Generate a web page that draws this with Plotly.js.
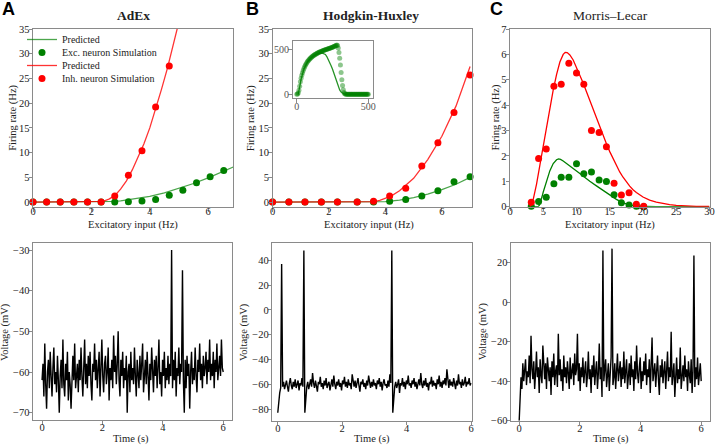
<!DOCTYPE html>
<html>
<head>
<meta charset="utf-8">
<script src="https://cdn.plot.ly/plotly-3.0.1.min.js"></script>
<style>html,body{margin:0;padding:0;background:#fff;}#chart{width:716px;height:447px;}</style>
</head>
<body>
<div id="chart"></div>
<script>
// ---------- Panel A (AdEx) firing rates ----------
const aSimX = [0, 0.467, 0.933, 1.4, 1.867, 2.333, 2.8, 3.267, 3.733, 4.2, 4.667, 5.133, 5.6, 6.067, 6.533];
const aExcSim = [0, 0, 0, 0, 0, 0, 0.02, 0.05, 0.2, 0.5, 1.4, 2.4, 3.9, 5.1, 6.4];
const aInhSimX = [0, 0.467, 0.933, 1.4, 1.867, 2.333, 2.8, 3.267, 3.733, 4.2, 4.667];
const aInhSim = [0, 0, 0, 0, 0, 0, 1.2, 5.4, 10.4, 19.2, 27.5];
const aExcPredX = [0, 2.0, 2.3, 2.5, 2.8, 3.0, 3.5, 4.0, 4.5, 5.0, 5.5, 6.0, 6.5, 6.9];
const aExcPred = [0, 0, 0.01, 0.04, 0.12, 0.22, 0.62, 1.15, 1.85, 2.75, 3.75, 4.9, 6.15, 7.2];
const aInhPredX = [0, 2.2, 2.4, 2.6, 2.8, 3.0, 3.2, 3.4, 3.6, 3.8, 4.0, 4.2, 4.4, 4.6, 4.8, 5.0];
const aInhPred = [0, 0, 0.15, 0.6, 1.3, 2.6, 4.3, 6.5, 9.0, 11.8, 15.0, 18.8, 22.8, 27.0, 31.5, 36.5];

// ---------- Panel B (Hodgkin-Huxley) firing rates ----------
const bSimX = [0, 0.58, 1.15, 1.73, 2.3, 3.0, 3.58, 4.15, 4.72, 5.29, 5.86, 6.43, 7.0];
const bExcSim = [0, 0, 0, 0, 0, 0, 0, 0.15, 0.5, 1.2, 2.3, 4.1, 5.1];
const bInhSim = [0, 0, 0, 0, 0, 0, 0.15, 1.2, 2.8, 7.3, 12.0, 18.1, 25.7];
const bExcPredX = [0, 3.5, 3.8, 4.0, 4.5, 5.0, 5.5, 6.0, 6.5, 7.0];
const bExcPred = [0, 0, 0.03, 0.1, 0.4, 0.9, 1.6, 2.5, 3.6, 5.0];
const bInhPredX = [0, 3.4, 3.6, 3.8, 4.0, 4.2, 4.5, 5.0, 5.5, 6.0, 6.5, 7.0];
const bInhPred = [0, 0, 0.1, 0.35, 0.7, 1.2, 2.3, 4.8, 8.6, 13.3, 19.4, 27.4];

// Inset of panel B (excitatory neuron, wide input range)
const insetX = [0,5,10,15,20,25,30,35,40,45,50,55,60,65,70,75,80,85,90,95,
  100,105,110,115,120,125,130,135,140,145,150,155,160,165,170,175,180,185,190,195,
  200,205,210,215,220,225,230,235,240,245,250,255,260,265,270,275,280,285,290,295,
  300,305,310,315,320,325,330,335,340,345,350,355,360,365,370,375,380,385,390,395,
  400,405,410,415,420,425,430,435,440,445,450,455,460,465,470,475,480,485,490,495,500];
const insetSim = [0,3,15,45,92,140,180,214,243,268,290,310,327,342,356,368,379,389,398,406,
  414,421,428,434,440,445,450,455,460,464,468,472,476,479,483,486,489,492,495,498,
  501,504,507,510,513,516,519,522,525,528,531,534,538,542,546,550,554,548,520,470,
  405,330,245,165,100,50,20,6,2,0,0,0,0,0,0,0,0,0,0,0,
  0,0,0,0,0,0,0,0,0,0,0,0,0,0,0,0,0,0,0,0,0];
const insetPredX = [10,15,20,30,40,50,75,100,125,150,175,190,200,210,220,230,240,250,260,270,280,290,300,310,320,330,350,500];
const insetPred = [0,30,80,170,235,285,365,410,440,458,465,460,448,425,395,360,322,282,236,185,135,88,50,25,12,5,0,0];

// ---------- Panel C (Morris-Lecar) firing rates ----------
const cSimX = [3.2, 4.3, 5.45, 6.6, 7.7, 8.85, 10.0, 11.1, 12.25, 13.4, 14.5, 15.65, 16.75, 17.9, 19.0, 20.1];
const cExcSim = [0.02, 0.2, 0.37, 0.9, 1.16, 1.16, 1.69, 1.3, 1.37, 1.05, 0.99, 0.47, 0.16, 0.07, 0.02, 0.0];
const cInhSim = [0.18, 1.9, 2.27, 4.74, 4.82, 5.65, 5.27, 4.82, 3.0, 2.92, 2.36, 0.92, 0.46, 0.55, 0.1, 0.02];
const cExcPredX = [3.0, 4.2, 4.4, 4.6, 4.8, 5.0, 5.5, 6.0, 6.5, 7.0, 7.3, 7.6, 8.0, 8.5, 9.0, 9.5, 10.0, 10.5, 11.0, 12.0, 13.0, 14.0, 15.0, 16.0, 17.0, 18.0, 19.0, 20.0, 22.0, 30.0];
const cExcPred = [0, 0, 0.05, 0.18, 0.38, 0.58, 1.02, 1.42, 1.7, 1.85, 1.88, 1.86, 1.8, 1.71, 1.61, 1.51, 1.41, 1.31, 1.2, 1.0, 0.82, 0.64, 0.46, 0.29, 0.15, 0.07, 0.025, 0.008, 0, 0];
const cInhPredX = [3.0, 3.25, 3.5, 4.0, 4.5, 5.0, 5.5, 6.0, 6.5, 7.0, 7.5, 8.0, 8.3, 8.6, 9.0, 9.5, 10.0, 10.5, 11.0, 11.5, 12.0, 12.5, 13.0, 13.5, 14.0, 14.5, 15.0, 15.5, 16.0, 16.5, 17.0, 17.5, 18.0, 18.5, 19.0, 20.0, 21.0, 22.0, 23.0, 24.0, 25.0, 26.0, 27.0, 28.0, 30.0];
const cInhPred = [0, 0.1, 0.3, 0.9, 1.65, 2.4, 3.1, 3.9, 4.6, 5.2, 5.7, 6.0, 6.08, 6.07, 5.98, 5.78, 5.5, 5.2, 4.87, 4.53, 4.18, 3.84, 3.5, 3.16, 2.82, 2.48, 2.17, 1.88, 1.61, 1.37, 1.16, 0.97, 0.81, 0.67, 0.56, 0.38, 0.26, 0.18, 0.12, 0.08, 0.05, 0.035, 0.02, 0.015, 0.01];

// ---------- Voltage traces (time in s) ----------
const timeS = [0,0.03,0.06,0.09,0.12,0.15,0.18,0.21,0.24,0.27,
  0.3,0.33,0.36,0.39,0.42,0.45,0.48,0.51,0.54,0.57,
  0.6,0.63,0.66,0.69,0.72,0.75,0.78,0.81,0.84,0.87,
  0.9,0.93,0.96,0.99,1.02,1.05,1.08,1.11,1.14,1.17,
  1.2,1.23,1.26,1.29,1.32,1.35,1.38,1.41,1.44,1.47,
  1.5,1.53,1.56,1.59,1.62,1.65,1.68,1.71,1.74,1.77,
  1.8,1.83,1.86,1.89,1.92,1.95,1.98,2.01,2.04,2.07,
  2.1,2.13,2.16,2.19,2.22,2.25,2.28,2.31,2.34,2.37,
  2.4,2.43,2.46,2.49,2.52,2.55,2.58,2.61,2.64,2.67,
  2.7,2.73,2.76,2.79,2.82,2.85,2.88,2.91,2.94,2.97,
  3.0,3.03,3.06,3.09,3.12,3.15,3.18,3.21,3.24,3.27,
  3.3,3.33,3.36,3.39,3.42,3.45,3.48,3.51,3.54,3.57,
  3.6,3.63,3.66,3.69,3.72,3.75,3.78,3.81,3.84,3.87,
  3.9,3.93,3.96,3.99,4.02,4.05,4.08,4.11,4.14,4.17,
  4.2,4.23,4.26,4.29,4.32,4.35,4.38,4.41,4.44,4.47,
  4.5,4.53,4.56,4.59,4.62,4.65,4.68,4.71,4.74,4.77,
  4.8,4.83,4.86,4.89,4.92,4.95,4.98,5.01,5.04,5.07,
  5.1,5.13,5.16,5.19,5.22,5.25,5.28,5.31,5.34,5.37,
  5.4,5.43,5.46,5.49,5.52,5.55,5.58,5.61,5.64,5.67,
  5.7,5.73,5.76,5.79,5.82,5.85,5.88,5.91,5.94,5.97,
  6.0];
const vAdEx = [-62,-58,-66,-53,-63,-69,-60,-57,-64,-55,-61,-66,-59,-54,-63,-60,-65,-56,-62,-70,
  -61,-57,-64,-52,-63,-66,-58,-62,-55,-67,-60,-63,-69,-59,-56,-62,-53,-64,-60,-58,
  -65,-57,-62,-54,-61,-66,-59,-52,-63,-58,-64,-56,-61,-55,-63,-67,-58,-60,-53,-62,
  -57,-64,-59,-55,-66,-60,-52,-61,-65,-58,-56,-63,-60,-54,-67,-59,-62,-57,-64,-51,
  -60,-56,-63,-58,-50,-62,-66,-57,-61,-55,-64,-59,-62,-56,-70,-60,-58,-65,-55,-62,
  -59,-63,-54,-61,-66,-57,-60,-64,-56,-62,-58,-53,-65,-60,-57,-63,-55,-61,-67,-58,
  -62,-54,-60,-65,-57,-61,-56,-64,-59,-52,-63,-60,-66,-57,-61,-55,-64,-59,-62,-56,
  -63,-58,-61,-30,-64,-57,-62,-55,-66,-59,-61,-54,-63,-58,-60,-35,-62,-70,-57,-64,
  -56,-61,-58,-69,-60,-55,-63,-59,-62,-54,-61,-65,-57,-60,-53,-62,-58,-64,-56,-61,
  -59,-55,-63,-57,-60,-52,-62,-58,-61,-55,-64,-57,-60,-53,-62,-58,-56,-61,-52,-59,-60];
const vHH = [-83,-74,-67,-63,37,-62,-58,-64,-60,-57,-62,-66,-59,-55,-61,-64,-58,-62,-56,-63,
  -60,-57,-65,-59,-61,-55,-62,48,-83,-69,-62,-58,-64,-60,-56,-62,-51,-59,-63,-57,
  -61,-66,-58,-60,-54,-62,-59,-64,-57,-61,-55,-63,-60,-58,-65,-59,-56,-62,-53,-60,
  -64,-58,-61,-56,-62,-59,-65,-57,-60,-54,-62,-58,-63,-56,-61,-59,-64,-52,-60,-62,
  -57,-63,-59,-55,-61,-66,-58,-60,-56,-62,-59,-64,-57,-61,-53,-60,-63,-58,-62,-56,
  -61,-59,-64,-57,-60,-55,-62,-58,-65,-59,-56,-61,-60,-63,-57,-62,-52,-59,48,-83,
  -68,-62,-58,-63,-60,-56,-67,-59,-61,-55,-62,-58,-64,-57,-60,-53,-61,-59,-63,-57,
  -60,-55,-62,-58,-64,-59,-56,-61,-51,-60,-63,-57,-61,-55,-62,-59,-65,-58,-60,-54,
  -62,-57,-61,-59,-64,-56,-60,-53,-62,-58,-63,-57,-60,-55,-61,-48,-59,-63,-56,-61,
  -58,-62,-55,-60,-64,-57,-61,-52,-60,-58,-63,-56,-61,-59,-54,-62,-58,-60,-55,-61,-59];
const vML = [-60,-50,-38,-44,-31,-40,-36,-29,-42,-35,-38,-27,-41,-17,-34,-39,-30,-44,-36,-25,
  -38,-33,-46,-29,-37,-41,-22,-35,-39,-31,-44,-28,-36,-40,-33,-47,-30,-38,-26,-42,
  -35,-32,-43,-16,-37,-29,-40,-34,-45,-27,-38,-33,-41,-30,-36,-44,-28,-39,-35,-31,
  -42,-26,-37,-34,-16,-40,-31,-45,-33,-38,-28,-41,-35,-30,-43,-37,-25,-39,-34,-46,
  -32,-38,-27,-42,-35,-30,-44,-36,-21,-39,-33,-48,26,-40,-34,-29,-43,-37,-31,-45,
  -35,-28,27,-42,-38,-31,-44,-34,-26,-40,-36,-30,-43,-33,-39,-25,-41,-35,-29,-44,
  -37,-31,-42,-27,-38,-34,-45,-30,-39,-22,-36,-41,-33,-28,-44,-35,-40,-30,-37,-26,
  -42,-34,-38,-29,-46,-33,-18,-40,-36,-31,-43,-35,-27,-39,-47,-32,-38,-29,-41,-35,
  -30,-44,-36,-25,-40,-33,-38,-15,-42,-35,-31,-48,-37,-28,-41,-34,-39,-23,-44,-36,
  -32,-40,-27,-38,-34,-45,-30,-37,-41,-29,-46,-35,23.5,-43,-33,-39,-28,-42,-36,-31,-40];

// ---------- Text ----------
const panelTitles = ['AdEx', 'Hodgkin-Huxley', 'Morris\u2013Lecar'];
const panelLetters = ['A', 'B', 'C'];
const legendNames = ['Predicted', 'Exc. neuron Simulation', 'Predicted', 'Inh. neuron Simulation'];
const xTitleTop = 'Excitatory input (Hz)';
const yTitleTop = 'Firing rate (Hz)';
const xTitleBottom = 'Time (s)';
const yTitleBottom = 'Voltage (mV)';

// ---------- Styles ----------
const W = 716, H = 447;
const GREEN = '#008000', RED = '#ff0000';
const SERIF = 'Liberation Serif';
const fx = p => p / W;
const fy = p => 1 - p / H;

const lineA = (x, y, color, ax, name, leg, op) => ({
  x: x, y: y, type: 'scatter', mode: 'lines', xaxis: 'x' + ax, yaxis: 'y' + ax,
  line: {color: color, width: 1.3}, opacity: op, name: name, showlegend: !!leg,
  legend: leg || 'legend', hoverinfo: 'skip'
});
const dots = (x, y, color, ax, name, leg, size, op) => ({
  x: x, y: y, type: 'scatter', mode: 'markers', xaxis: 'x' + ax, yaxis: 'y' + ax,
  marker: {color: color, size: size, opacity: op, line: {width: 0}}, name: name,
  showlegend: !!leg, legend: leg || 'legend', cliponaxis: false, hoverinfo: 'skip'
});
const trace = (x, y, ax) => ({
  x: x, y: y, type: 'scatter', mode: 'lines', xaxis: 'x' + ax, yaxis: 'y' + ax,
  line: {color: '#000', width: 1.4}, showlegend: false, hoverinfo: 'skip'
});

const data = [
  lineA(aExcPredX, aExcPred, GREEN, '', legendNames[0], 'legend', 0.7),
  dots(aSimX, aExcSim, GREEN, '', legendNames[1], 'legend2', 7, 1),
  lineA(aInhPredX, aInhPred, RED, '', legendNames[2], 'legend3', 0.8),
  dots(aInhSimX, aInhSim, RED, '', legendNames[3], 'legend4', 7, 1),

  lineA(bExcPredX, bExcPred, GREEN, '2', '', null, 0.7),
  dots(bSimX, bExcSim, GREEN, '2', '', null, 7, 1),
  lineA(bInhPredX, bInhPred, RED, '2', '', null, 0.8),
  dots(bSimX, bInhSim, RED, '2', '', null, 7, 1),

  lineA(cExcPredX, cExcPred, GREEN, '3', '', null, 1),
  dots(cSimX, cExcSim, GREEN, '3', '', null, 7, 1),
  lineA(cInhPredX, cInhPred, RED, '3', '', null, 1),
  dots(cSimX, cInhSim, RED, '3', '', null, 7, 1),

  trace(timeS, vAdEx, '4'),
  trace(timeS, vHH, '5'),
  trace(timeS, vML, '6'),

  dots(insetX, insetSim, GREEN, '7', '', null, 5, 0.45),
  lineA(insetPredX, insetPred, GREEN, '7', '', null, 0.85)
];

const AX = {
  showline: true, mirror: true, linecolor: '#8a8a8a', linewidth: 1,
  ticks: 'outside', ticklen: 3.5, tickwidth: 1, tickcolor: '#8a8a8a',
  showgrid: false, zeroline: false, fixedrange: true,
  tickfont: {family: SERIF, size: 10.5, color: '#222'}
};
const ax = (o) => Object.assign({}, AX, o);
const TOPX = -9, BOTX = -6, YSO = -3, INSX = -5;

const legendBase = (y) => ({x: fx(22), y: fy(y), xanchor: 'left', yanchor: 'middle',
  bgcolor: 'rgba(0,0,0,0)', borderwidth: 0,
  font: {family: SERIF, size: 10, color: '#222'}});

const layout = {
  width: W, height: H,
  margin: {l: 0, r: 0, t: 0, b: 0},
  paper_bgcolor: '#fff', plot_bgcolor: '#fff',
  font: {family: SERIF, size: 11, color: '#222'},
  showlegend: true,
  legend: legendBase(39.5),
  legend2: legendBase(52.5),
  legend3: legendBase(65.5),
  legend4: legendBase(78.5),

  xaxis: ax({domain: [fx(33), fx(233)], range: [0, 6.85], tickvals: [0, 2, 4, 6], anchor: 'y', ticklabelstandoff: TOPX}),
  yaxis: ax({domain: [fy(207), fy(29)], range: [-1, 35], tickvals: [0, 5, 10, 15, 20, 25, 30, 35], anchor: 'x', ticklabelstandoff: YSO}),
  xaxis2: ax({domain: [fx(272.5), fx(471.5)], range: [0, 7.05], tickvals: [0, 2, 4, 6], anchor: 'y2', ticklabelstandoff: TOPX}),
  yaxis2: ax({domain: [fy(207), fy(29)], range: [-1, 35], tickvals: [0, 5, 10, 15, 20, 25, 30, 35], anchor: 'x2', ticklabelstandoff: YSO}),
  xaxis3: ax({domain: [fx(510), fx(709.5)], range: [0, 30], tickvals: [0, 5, 10, 15, 20, 25, 30], anchor: 'y3', ticklabelstandoff: TOPX}),
  yaxis3: ax({domain: [fy(206.7), fy(29)], range: [0, 7], tickvals: [0, 1, 2, 3, 4, 5, 6, 7], anchor: 'x3', ticklabelstandoff: YSO}),

  xaxis4: ax({domain: [fx(33), fx(232)], range: [-0.3, 6.29], tickvals: [0, 2, 4, 6], anchor: 'y4', ticklabelstandoff: BOTX}),
  yaxis4: ax({domain: [fy(420), fy(242.7)], range: [-71.8, -28.2], tickvals: [-70, -60, -50, -40, -30], anchor: 'x4', ticklabelstandoff: YSO}),
  xaxis5: ax({domain: [fx(272.3), fx(471.7)], range: [-0.17, 6.02], tickvals: [0, 2, 4, 6], anchor: 'y5', ticklabelstandoff: BOTX}),
  yaxis5: ax({domain: [fy(420.7), fy(242.7)], range: [-89.4, 54.2], tickvals: [-80, -60, -40, -20, 0, 20, 40], anchor: 'x5', ticklabelstandoff: YSO}),
  xaxis6: ax({domain: [fx(511), fx(710)], range: [-0.27, 6.29], tickvals: [0, 2, 4, 6], anchor: 'y6', ticklabelstandoff: BOTX}),
  yaxis6: ax({domain: [fy(420.7), fy(242.7)], range: [-60, 30], tickvals: [-60, -40, -20, 0, 20], anchor: 'x6', ticklabelstandoff: YSO}),

  xaxis7: ax({domain: [fx(292.5), fx(373.3)], range: [-30, 535], tickvals: [0, 500], anchor: 'y7', ticklabelstandoff: INSX,
    tickfont: {family: SERIF, size: 10, color: '#555'}}),
  yaxis7: ax({domain: [fy(98.3), fy(41)], range: [-45, 600], tickvals: [0, 500], anchor: 'x7', ticklabelstandoff: YSO,
    tickfont: {family: SERIF, size: 10, color: '#555'}}),

  annotations: []
};

const ann = (text, x, y, o) => Object.assign({
  text: text, x: fx(x), y: fy(y), xref: 'paper', yref: 'paper',
  xanchor: 'center', yanchor: 'middle', showarrow: false,
  font: {family: SERIF, size: 10.5, color: '#222'}
}, o || {});

// panel letters
[[8, 9], [252, 9], [496, 9]].forEach((p, i) => layout.annotations.push(
  ann(panelLetters[i], p[0], p[1], {font: {family: 'Liberation Sans', size: 18, color: '#000', weight: 'bold'}})));
// panel titles
layout.annotations.push(ann('<b>' + panelTitles[0] + '</b>', 133.3, 16, {font: {family: SERIF, size: 13.5, color: '#222'}}));
layout.annotations.push(ann('<b>' + panelTitles[1] + '</b>', 370.8, 16, {font: {family: SERIF, size: 13.5, color: '#222'}}));
layout.annotations.push(ann(panelTitles[2], 610, 16, {font: {family: SERIF, size: 13.5, color: '#222'}}));
// x titles
[132.5, 369.2, 610].forEach(x => layout.annotations.push(ann(xTitleTop, x, 224.5)));
[131.3, 372.5, 610.7].forEach(x => layout.annotations.push(ann(xTitleBottom, x, 438.5)));
// y titles
[12.8, 251.2, 495.5].forEach(x => layout.annotations.push(ann(yTitleTop, x, 118, {textangle: -90})));
[5.2, 244.2, 482.5].forEach(x => layout.annotations.push(ann(yTitleBottom, x, 331.7, {textangle: -90})));

Plotly.newPlot('chart', data, layout, {staticPlot: true, displayModeBar: false});
</script>
</body>
</html>
